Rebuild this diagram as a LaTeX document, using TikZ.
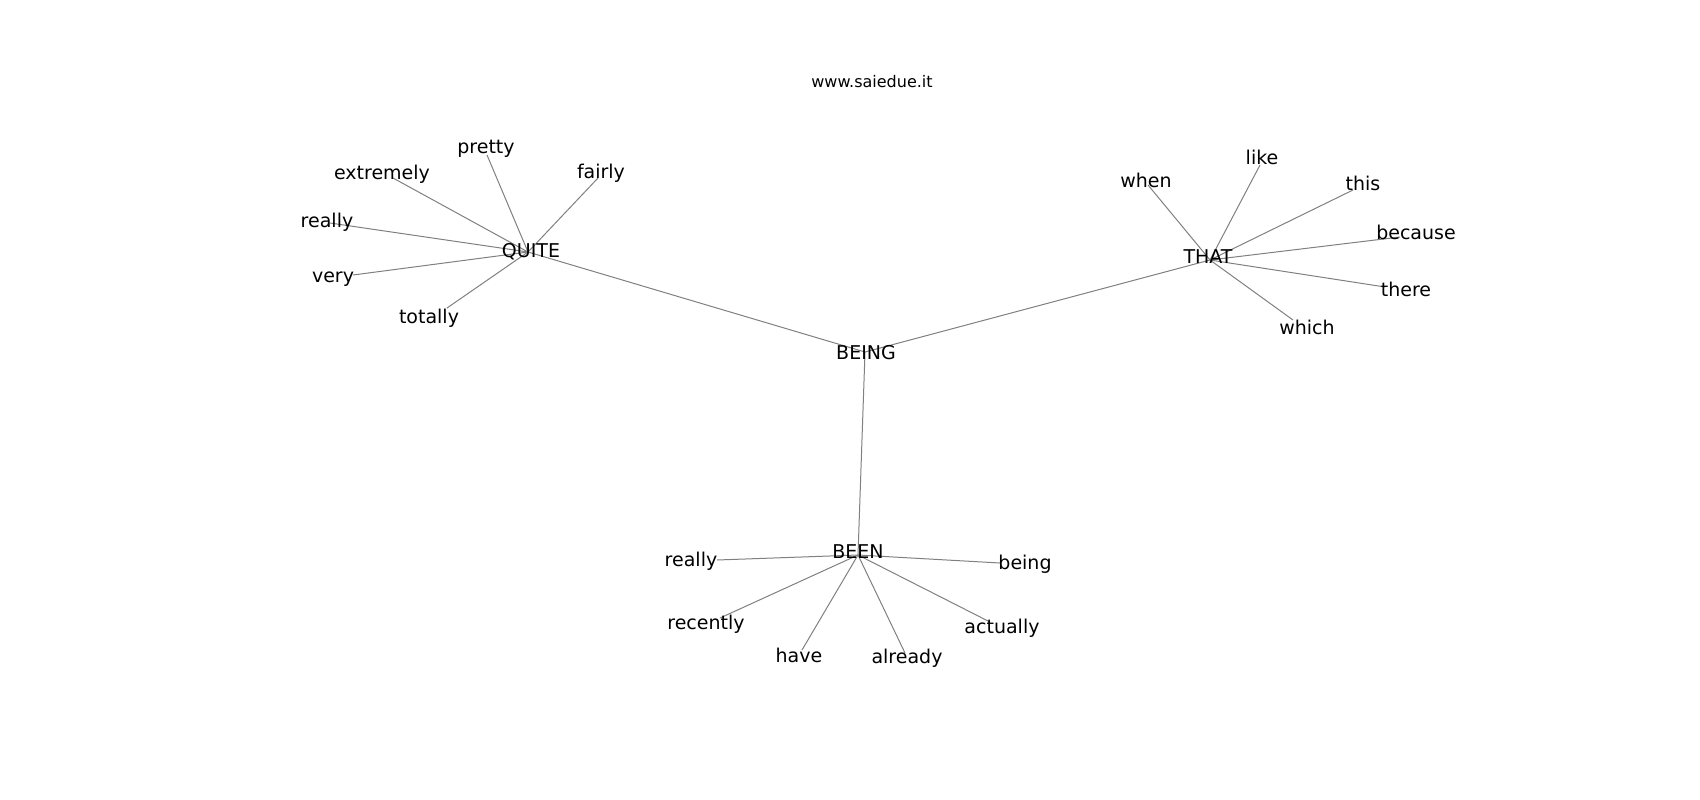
\documentclass[tikz,border=0pt]{standalone}
\usepackage{fontspec}
\setmainfont{DejaVu Sans}
\begin{document}
\begin{tikzpicture}[x=1pt,y=-1pt,
  lbl/.style={inner sep=0pt,anchor=center,font=\fontsize{19}{23}\selectfont,text=black},
  ttl/.style={inner sep=0pt,anchor=center,font=\fontsize{16}{19}\selectfont,text=black},
  edge/.style={draw=gray,line width=1pt}]
\useasboundingbox (0,0) rectangle (1700,800);
% hub coordinates
\coordinate (cBEING) at (865,352);
\coordinate (cQUITE) at (528,252);
\coordinate (cTHAT) at (1210,260);
\coordinate (cBEEN) at (858,555);
% leaf coordinates
\coordinate (cpretty) at (487,155);
\coordinate (cextremely) at (393,178);
\coordinate (cfairly) at (598,178);
\coordinate (creallyA) at (330,223);
\coordinate (cvery) at (353,275);
\coordinate (ctotally) at (447,308);
\coordinate (cwhen) at (1148,185);
\coordinate (clike) at (1260,165);
\coordinate (cthis) at (1353,190);
\coordinate (cbecause) at (1400,237);
\coordinate (cthere) at (1385,287);
\coordinate (cwhich) at (1293,320);
\coordinate (creallyB) at (717,560);
\coordinate (cbeing) at (1000,563);
\coordinate (crecently) at (720,618);
\coordinate (chave) at (802,650);
\coordinate (calready) at (905,653);
\coordinate (cactually) at (990,622);
% edges
\draw[edge] (cBEING) -- (cQUITE);
\draw[edge] (cBEING) -- (cTHAT);
\draw[edge] (cBEING) -- (cBEEN);
\foreach \l in {pretty,extremely,fairly,reallyA,very,totally}
  \draw[edge] (cQUITE) -- (c\l);
\foreach \l in {when,like,this,because,there,which}
  \draw[edge] (cTHAT) -- (c\l);
\foreach \l in {reallyB,being,recently,have,already,actually}
  \draw[edge] (cBEEN) -- (c\l);
% labels
\node[ttl] (title) at (872,82) {www.saiedue.it};
\node[lbl] (BEING) at (866,353) {BEING};
\node[lbl] (QUITE) at (531,252) {QUITE};
\node[lbl] (THAT) at (1208,257) {THAT};
\node[lbl] (BEEN) at (858,552) {BEEN};
\node[lbl] (pretty) at (486,149) {pretty};
\node[lbl] (extremely) at (382,174) {extremely};
\node[lbl] (fairly) at (601,173) {fairly};
\node[lbl] (reallyA) at (327,222) {really};
\node[lbl] (very) at (333,279) {very};
\node[lbl] (totally) at (429,318) {totally};
\node[lbl] (when) at (1146,180) {when};
\node[lbl] (like) at (1262,157) {like};
\node[lbl] (this) at (1363,183) {this};
\node[lbl] (because) at (1416,232) {because};
\node[lbl] (there) at (1406,289) {there};
\node[lbl] (which) at (1307,327) {which};
\node[lbl] (reallyB) at (691,561) {really};
\node[lbl] (being) at (1025,564) {being};
\node[lbl] (recently) at (706,624) {recently};
\node[lbl] (have) at (799,655) {have};
\node[lbl] (already) at (907,658) {already};
\node[lbl] (actually) at (1002,628) {actually};
\end{tikzpicture}
\end{document}
